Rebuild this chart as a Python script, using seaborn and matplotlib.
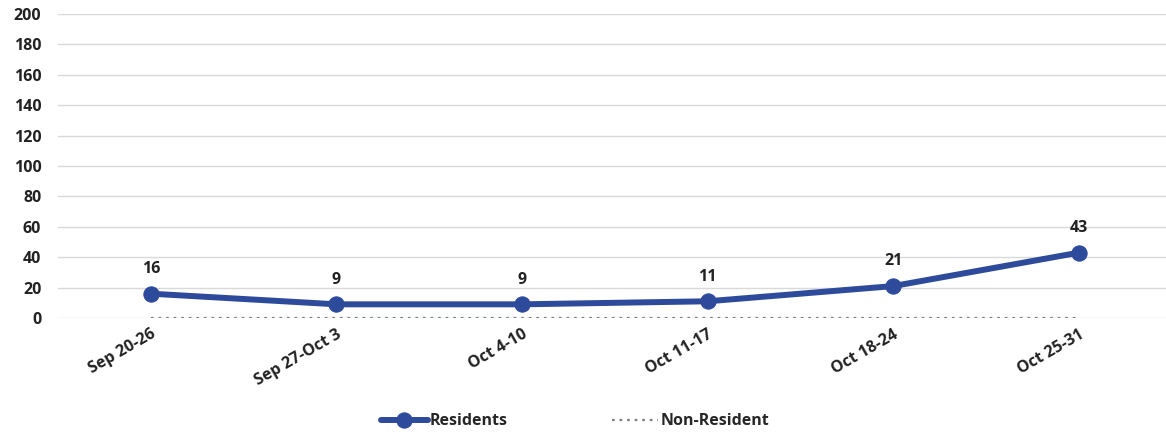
import pandas as pd
import matplotlib.pyplot as plt
import seaborn as sns

# chart data
weeks = ["Sep 20-26", "Sep 27-Oct 3", "Oct 4-10", "Oct 11-17", "Oct 18-24", "Oct 25-31"]
residents = [16, 9, 9, 11, 21, 43]
non_resident = [0, 0, 0, 0, 0, 0]

df = pd.DataFrame({"week": weeks, "Residents": residents, "Non-Resident": non_resident})

sns.set_style("white")
plt.rcParams['font.family'] = ['Open Sans', 'DejaVu Sans']
plt.rcParams['font.weight'] = 'bold'

blue = "#2E4A9B"
fs = 11.5

fig = plt.figure(figsize=(11.66, 4.37), dpi=100)
ax = fig.add_axes([58 / 1166, 119 / 437, 1110 / 1166, 304 / 437])

sns.lineplot(data=df, x="week", y="Non-Resident", ax=ax, color="#7f7f7f",
             linestyle=(0, (1.2, 2.2)), linewidth=1.6, label="Non-Resident", sort=False)
sns.lineplot(data=df, x="week", y="Residents", ax=ax, color=blue, linewidth=4.3,
             marker="o", markersize=11, markeredgecolor=blue, label="Residents", sort=False)

# value labels
for i, v in enumerate(residents):
    ax.annotate(str(v), (i, v), xytext=(0, 12), textcoords="offset points",
                ha="center", va="bottom", fontsize=fs, fontweight="bold", color="#222222")

ax.set_ylim(0, 200)
ax.set_yticks(range(0, 201, 20))
ax.set_xlim(-0.5, 5.48)
ax.yaxis.grid(True, color="#d9d9d9", linewidth=1)
ax.set_axisbelow(True)
for s in ax.spines.values():
    s.set_visible(False)
ax.set_xlabel("")
ax.set_ylabel("")
ax.tick_params(axis="y", length=0, pad=12, labelsize=fs, labelcolor="#222222")
ax.tick_params(axis="x", length=0, pad=6, labelsize=fs, labelcolor="#222222")
plt.setp(ax.get_xticklabels(), rotation=30, ha="right", rotation_mode="anchor", fontweight="bold")
plt.setp(ax.get_yticklabels(), fontweight="bold")

handles, labels = ax.get_legend_handles_labels()
order = [labels.index("Residents"), labels.index("Non-Resident")]
ax.legend([handles[i] for i in order], [labels[i] for i in order], ncol=2, frameon=False,
          loc="center", bbox_to_anchor=(0.466, -0.34), handlelength=2.9,
          handletextpad=0.15, columnspacing=6.5, prop={"weight": "bold", "size": fs})

plt.savefig("out.png", dpi=100)
